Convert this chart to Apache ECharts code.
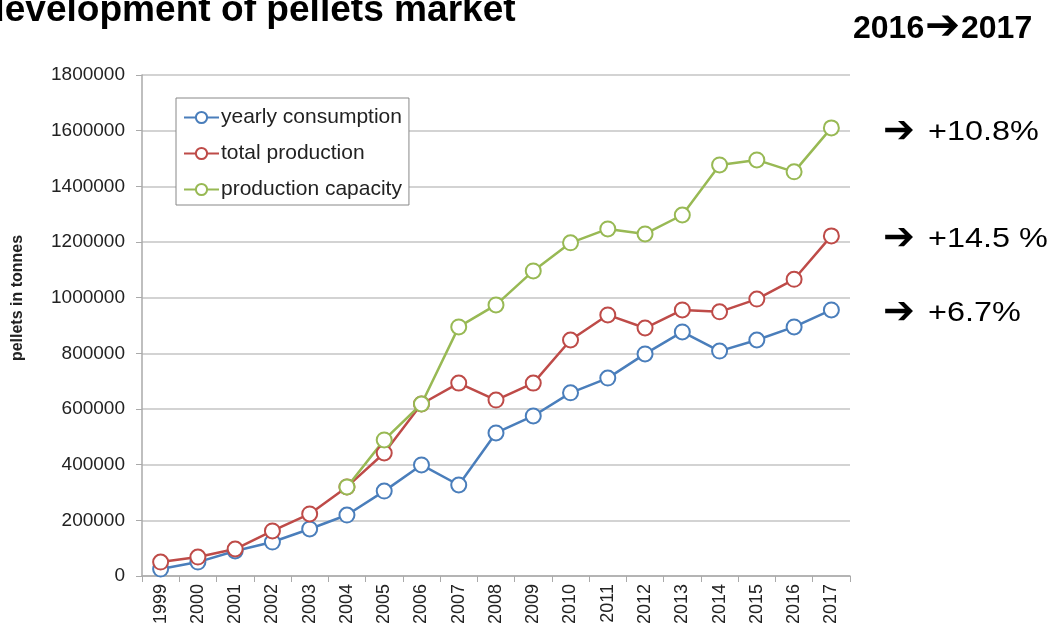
<!DOCTYPE html>
<html>
<head>
<meta charset="utf-8">
<title>development of pellets market</title>
<script src="https://cdn.jsdelivr.net/npm/echarts@6/dist/echarts.min.js"></script>
<style>
  html, body { margin: 0; padding: 0; background: #fff; }
  #chart { width: 1051px; height: 633px; }
</style>
</head>
<body>
<div id="chart"></div>
<script>
const years = ['1999', '2000', '2001', '2002', '2003', '2004', '2005', '2006', '2007', '2008',
  '2009', '2010', '2011', '2012', '2013', '2014', '2015', '2016', '2017']

// values, tonnes
const consumption = [25000, 50000, 90000, 122000, 169000, 219000, 305000, 399000, 327000, 514000,
  575000, 658000, 711000, 798000, 877000, 808000, 848000, 895000, 956000]
const production = [50000, 68000, 97000, 162000, 223000, 320000, 442000, 618000, 693000, 632000,
  693000, 848000, 938000, 891000, 956000, 949000, 995000, 1066000, 1222000]
const capacity = [null, null, null, null, null, 320000, 489000, 618000, 895000, 974000,
  1096000, 1197000, 1247000, 1229000, 1297000, 1477000, 1495000, 1452000, 1610000]

const seriesNames = ['yearly consumption', 'total production', 'production capacity']
const changes = ['+10.8%', '+14.5 %', '+6.7%']
const changeY = [133, 240, 314]

const FONT = 'Liberation Sans, Arial, sans-serif'
const ARROW = '\u2794'
const chart = echarts.init(document.getElementById('chart'))

function lineSeries(name, data, color) {
  return {
    name: name,
    type: 'line',
    data: data,
    symbol: 'emptyCircle',
    symbolSize: 15,
    connectNulls: false,
    lineStyle: { color: color, width: 2.5 },
    itemStyle: { color: color, borderColor: color, borderWidth: 2 },
  }
}

function txt(x, y, text, font, extra) {
  return Object.assign({
    type: 'text', x: x, y: y,
    style: { text: text, font: font, fill: '#000', verticalAlign: 'middle' },
  }, extra || {})
}

// arrows + percentages on the right
const changeTexts = []
changes.forEach((t, i) => {
  changeTexts.push(txt(883, changeY[i] - 1, ARROW, 'bold 38px DejaVu Sans, sans-serif'))
  changeTexts.push(txt(928, changeY[i], t, '27px ' + FONT, { scaleX: 1.2 }))
})

const option = {
  animation: false,
  textStyle: { fontFamily: FONT },
  grid: { left: 142, right: 201, top: 75, bottom: 57, containLabel: false },
  legend: {
    orient: 'vertical',
    left: 176,
    top: 98,
    padding: [9, 7, 5, 7],
    itemGap: 15,
    itemWidth: 35,
    itemHeight: 14,
    borderColor: '#888',
    borderWidth: 1,
    backgroundColor: '#fff',
    textStyle: { fontSize: 21, color: '#222', padding: [0, 0, 0, -3] },
    data: seriesNames,
  },
  xAxis: {
    type: 'category',
    data: years,
    boundaryGap: true,
    axisLine: { lineStyle: { color: '#aaa', width: 1.5 } },
    axisTick: { show: true, interval: 0, length: 6, lineStyle: { color: '#aaa' } },
    axisLabel: { rotate: 90, fontSize: 18, color: '#222', margin: 8, interval: 0 },
  },
  yAxis: {
    type: 'value',
    min: 0,
    max: 1800000,
    interval: 200000,
    axisLine: { show: true, lineStyle: { color: '#aaa', width: 1.5 } },
    axisTick: { show: true, length: 6, lineStyle: { color: '#aaa' } },
    axisLabel: { fontSize: 19, color: '#222', margin: 17, formatter: (v) => String(v) },
    splitLine: { lineStyle: { color: '#c4c4c4', width: 1.5 } },
  },
  graphic: [
    txt(-18, 11, 'development of pellets market', 'bold 36px ' + FONT, { scaleX: 1.03 }),
    txt(853, 29, '2016', 'bold 32px ' + FONT),
    txt(925, 28, ARROW, 'bold 42px DejaVu Sans, sans-serif'),
    txt(961, 29, '2017', 'bold 32px ' + FONT),
    {
      type: 'text',
      x: 18,
      y: 298,
      rotation: Math.PI / 2,
      style: {
        text: 'pellets in tonnes',
        font: 'bold 16px ' + FONT,
        fill: '#222',
        align: 'center',
        verticalAlign: 'middle',
      },
    },
  ].concat(changeTexts),
  series: [
    lineSeries(seriesNames[0], consumption, '#4a7ebb'),
    lineSeries(seriesNames[1], production, '#be4b48'),
    lineSeries(seriesNames[2], capacity, '#98b954'),
  ],
}

chart.setOption(option)
</script>
</body>
</html>
